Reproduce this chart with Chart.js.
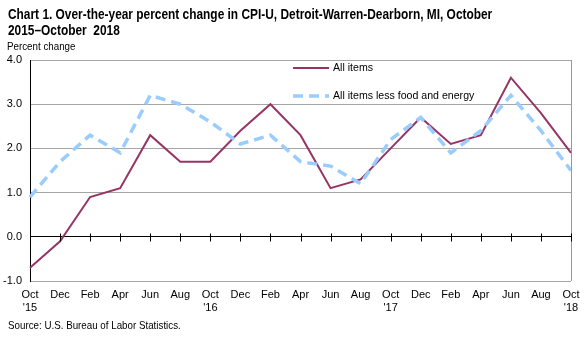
<!DOCTYPE html>
<html lang="en">
<head>
<meta charset="UTF-8">
<title>CPI-U Detroit-Warren-Dearborn</title>
<script src="https://cdn.jsdelivr.net/npm/chart.js"></script>
<style>
  body { margin: 0; background: #fff; font-family: Arial, 'Liberation Sans', sans-serif; }
  .wrap { position: relative; width: 587px; height: 337px; }
  canvas { position: absolute; left: 0; top: 0; }
  .title, .ylab, .source { position: absolute; white-space: nowrap; transform-origin: left top; transform: scaleX(0.85); color: #000; }
  .title { left: 8px; top: 6px; font-size: 14px; font-weight: bold; line-height: 16px; }
  .ylab { left: 7px; top: 40px; font-size: 11.5px; }
  .source { left: 8px; top: 319px; font-size: 11.5px; }
</style>
</head>
<body>
<div class="wrap">
  <canvas id="chart" width="587" height="337"></canvas>
  <div class="title">Chart 1. Over-the-year percent change in CPI-U, Detroit-Warren-Dearborn, MI, October<br>2015–October&nbsp; 2018</div>
  <div class="ylab">Percent change</div>
  <div class="source">Source: U.S. Bureau of Labor Statistics.</div>
</div>
<script>
const months = [["Oct", "'15"], "Dec", "Feb", "Apr", "Jun", "Aug", ["Oct", "'16"], "Dec", "Feb", "Apr", "Jun", "Aug",
  ["Oct", "'17"], "Dec", "Feb", "Apr", "Jun", "Aug", ["Oct", "'18"]];
const allItems = [-0.7, -0.1, 0.9, 1.1, 2.3, 1.7, 1.7, 2.4, 3.0, 2.3, 1.1, 1.3, 2.0, 2.7, 2.1, 2.3, 3.6, 2.8, 1.9];
const lessFoodEnergy = [0.9, 1.7, 2.3, 1.9, 3.2, 3.0, 2.6, 2.1, 2.3, 1.7, 1.6, 1.2, 2.2, 2.7, 1.9, 2.4, 3.2, 2.4, 1.5];
const seriesNames = ['All items', 'All items less food and energy'];

const maroon = '#963565';
const lightBlue = '#99ccff';

// zero line ticks, right border, legend
const extras = {
  id: 'extras',
  afterDatasetsDraw(chart) {
    const { ctx, chartArea: a, scales: { x, y } } = chart;
    ctx.save();
    ctx.strokeStyle = '#999';
    ctx.lineWidth = 1;
    ctx.beginPath();
    ctx.moveTo(a.right + 0.5, a.top);
    ctx.lineTo(a.right + 0.5, a.bottom);
    ctx.stroke();
    const y0 = Math.round(y.getPixelForValue(0)) + 0.5;
    ctx.strokeStyle = '#000';
    ctx.beginPath();
    for (let i = 1; i < months.length; i++) {
      const px = Math.round(x.getPixelForValue(i)) + 0.5;
      ctx.moveTo(px, y0 - 4);
      ctx.lineTo(px, y0 + 4);
    }
    ctx.stroke();

    ctx.font = '10.6px Arial, "Liberation Sans", sans-serif';
    ctx.fillStyle = '#000';
    ctx.textBaseline = 'middle';
    const lx = 293, lw = 36;
    ctx.strokeStyle = maroon;
    ctx.lineWidth = 2;
    ctx.beginPath();
    ctx.moveTo(lx, 68); ctx.lineTo(lx + lw, 68);
    ctx.stroke();
    ctx.fillText(seriesNames[0], 333, 68);
    ctx.strokeStyle = lightBlue;
    ctx.lineWidth = 3.5;
    ctx.setLineDash([10, 6]);
    ctx.beginPath();
    ctx.moveTo(lx, 96); ctx.lineTo(lx + lw, 96);
    ctx.stroke();
    ctx.setLineDash([]);
    ctx.fillText(seriesNames[1], 333, 96);
    ctx.restore();
  }
};

new Chart(document.getElementById('chart'), {
  type: 'line',
  data: {
    labels: months,
    datasets: [
      {
        label: seriesNames[1],
        data: lessFoodEnergy,
        borderColor: lightBlue,
        borderWidth: 3.5,
        borderDash: [10, 6],
        pointRadius: 0,
        tension: 0,
        fill: false
      },
      {
        label: seriesNames[0],
        data: allItems,
        borderColor: maroon,
        borderWidth: 2,
        pointRadius: 0,
        tension: 0,
        fill: false
      }
    ]
  },
  options: {
    responsive: false,
    animation: false,
    layout: { padding: { left: 0, right: 16, top: 60, bottom: 14 } },
    plugins: { legend: { display: false }, tooltip: { enabled: false } },
    scales: {
      x: {
        offset: false,
        grid: { display: false, drawTicks: false },
        border: { display: false },
        ticks: {
          color: '#000',
          font: { family: 'Arial, "Liberation Sans", sans-serif', size: 11, lineHeight: 1.2 },
          padding: 7,
          maxRotation: 0,
          autoSkip: false
        },
        afterFit(s) { s.height = 42; }
      },
      y: {
        min: -1,
        max: 4,
        ticks: {
          stepSize: 1,
          color: '#000',
          padding: 8,
          font: { family: 'Arial, "Liberation Sans", sans-serif', size: 11 },
          callback: v => v.toFixed(1)
        },
        grid: {
          drawTicks: false,
          color: ctx => ctx.tick && ctx.tick.value === 0 ? '#000' : '#a6a6a6',
          lineWidth: 1
        },
        border: { display: true, color: '#000' },
        afterFit(s) { s.width = 30; }
      }
    }
  },
  plugins: [extras]
});
</script>
</body>
</html>
